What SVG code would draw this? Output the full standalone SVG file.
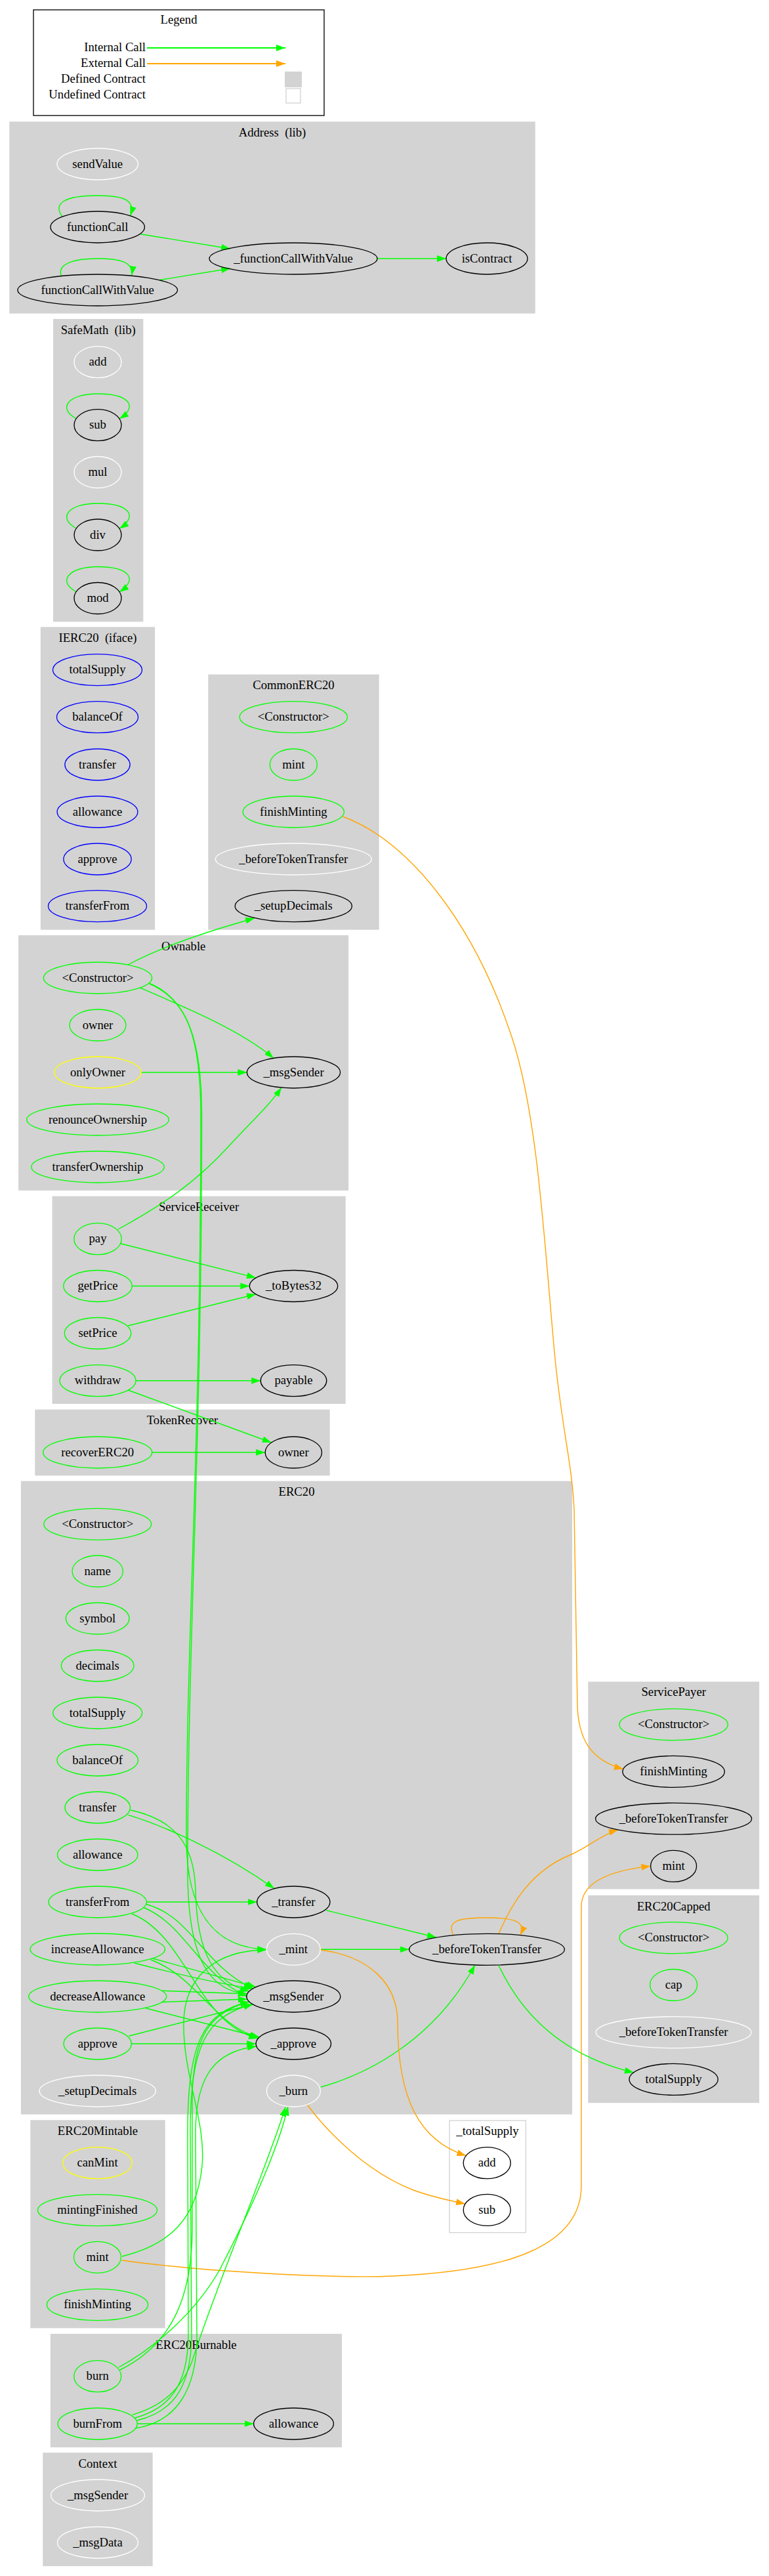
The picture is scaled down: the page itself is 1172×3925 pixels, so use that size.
<svg xmlns="http://www.w3.org/2000/svg" width="1172" height="3925" viewBox="0 0 1172 3925">
<style>
text{font-family:"Liberation Serif","Times New Roman",serif;font-size:18.67px;text-anchor:middle;fill:#000}
.t{white-space:pre}
.r{text-anchor:end}
.cl{fill:#d3d3d3;stroke:#d3d3d3;stroke-width:1.33}
.cw{fill:#ffffff;stroke:#d3d3d3;stroke-width:1.33}
ellipse{fill:none;stroke-width:1.33}
.g ellipse{stroke:#00ff00}.b ellipse{stroke:#0000ff}.y ellipse{stroke:#ffff00}.w ellipse{stroke:#ffffff}.k ellipse{stroke:#000000}
#edges path{fill:none;stroke-width:1.4}
#edges .eg{stroke:#00ff00;marker-end:url(#ag)}
#edges .eo{stroke:#ffa500;marker-end:url(#ao)}
</style>
<defs>
<marker id="ag" markerUnits="userSpaceOnUse" markerWidth="14" markerHeight="10" viewBox="0 0 13.3 9.4" refX="13.3" refY="4.7" orient="auto"><path d="M0,0 L13.3,4.7 L0,9.4 z" fill="#00ff00"/></marker>
<marker id="ao" markerUnits="userSpaceOnUse" markerWidth="14" markerHeight="10" viewBox="0 0 13.3 9.4" refX="13.3" refY="4.7" orient="auto"><path d="M0,0 L13.3,4.7 L0,9.4 z" fill="#ffa500"/></marker>
</defs>
<rect width="1172" height="3925" fill="#ffffff"/>

<g id="legend">
<rect x="51" y="15" width="443" height="161" fill="#ffffff" stroke="#000000" stroke-width="1.33"/>
<text x="272.5" y="36">Legend</text>
<text class="r" x="222" y="78">Internal Call</text>
<text class="r" x="222" y="102">External Call</text>
<text class="r" x="222" y="126">Defined Contract</text>
<text class="r" x="222" y="150">Undefined Contract</text>
<path d="M224,73 L435,73" stroke="#00ff00" stroke-width="2" marker-end="url(#ag)"/>
<path d="M224,97 L435,97" stroke="#ffa500" stroke-width="2" marker-end="url(#ao)"/>
<rect x="434" y="109" width="26" height="24" fill="#d3d3d3"/>
<rect x="436" y="135" width="22" height="22" fill="#ffffff" stroke="#d3d3d3" stroke-width="1.33"/>
</g>

<g id="clusters">
<rect class="cl" x="15" y="186" width="800" height="291"/><text class="t" x="415" y="208">Address  (lib)</text>
<rect class="cl" x="81.7" y="486.7" width="136" height="460"/><text class="t" x="149.7" y="509">SafeMath  (lib)</text>
<rect class="cl" x="62.5" y="956" width="173" height="460"/><text class="t" x="149" y="978">IERC20  (iface)</text>
<rect class="cl" x="318" y="1028.3" width="259" height="387.7"/><text x="447.5" y="1050">CommonERC20</text>
<rect class="cl" x="28.8" y="1425.7" width="501.7" height="387.6"/><text x="279.7" y="1447.5">Ownable</text>
<rect class="cl" x="80.2" y="1823.3" width="445.8" height="315"/><text x="303" y="1845">ServiceReceiver</text>
<rect class="cl" x="54" y="2148.3" width="448" height="99.4"/><text x="278" y="2170">TokenRecover</text>
<rect class="cl" x="32.5" y="2257.3" width="838.9" height="963.7"/><text x="452" y="2279">ERC20</text>
<rect class="cl" x="897" y="2563" width="259.5" height="314.8"/><text x="1026.7" y="2584">ServicePayer</text>
<rect class="cl" x="897" y="2888.5" width="259.5" height="315"/><text x="1026.7" y="2910.5">ERC20Capped</text>
<rect class="cw" x="685" y="3231" width="116.3" height="170.7"/><text x="743" y="3253">_totalSupply</text>
<rect class="cl" x="47" y="3231" width="204" height="315.7"/><text x="149" y="3253">ERC20Mintable</text>
<rect class="cl" x="77.5" y="3556.7" width="442.9" height="171.6"/><text x="299" y="3578.5">ERC20Burnable</text>
<rect class="cl" x="66" y="3737.7" width="166" height="171.6"/><text x="149" y="3759.5">Context</text>
</g>

<g id="edges">
<!-- Address -->
<path class="eg" d="M95,330 C80,310 98,298 148.7,298 C192,298 206,306 198.7,328.5"/>
<path class="eg" d="M93.7,421 C86,402 113,394 148.7,394 C184,394 204,400 200.7,419.5"/>
<path class="eg" d="M214.5,356.7 L351,379"/>
<path class="eg" d="M243,426.7 L351,409"/>
<path class="eg" d="M575,394 L680,394"/>
<!-- SafeMath loops -->
<path class="eg" d="M116,637.7 C87,622 104,600 149,600 C194,600 213,618 182,638.1"/>
<path class="eg" d="M116,805 C87,789 104,767 149,767 C194,767 213,785 182,805.4"/>
<path class="eg" d="M116,901.5 C87,886 104,863.5 149,863.5 C194,863.5 213,881 182,901.9"/>
<!-- Ownable -->
<path class="eg" d="M195,1470 C245,1443 320,1418 388,1399"/>
<path class="eg" d="M213.4,1505 C290,1538 370,1572 417,1612.4"/>
<path class="eg" d="M215,1634 L376.4,1634"/>
<path class="eg" d="M227,1498 C286,1522 306,1582 306,1700 C306,2200 284,2500 284,2800 C284,2925 335,2968 406.3,2970.3"/>
<path class="eg" d="M228,1499 C287,1524 307.5,1586 307.5,1700 C307.5,2200 286,2500 286,2850 C286,2990 322,3034 376.8,3038"/>
<!-- ServiceReceiver -->
<path class="eg" d="M180,1873 C250,1835 300,1800 350,1745 C380,1712 410,1685 429,1657.1"/>
<path class="eg" d="M183.5,1894.7 L390,1946.9"/>
<path class="eg" d="M201.2,1959.5 L380.3,1959.5"/>
<path class="eg" d="M195,2020 L390,1972"/>
<path class="eg" d="M207,2103.7 L397.2,2103.7"/>
<path class="eg" d="M195,2118 L413.6,2198"/>
<!-- TokenRecover -->
<path class="eg" d="M231.7,2213 L404.1,2213"/>
<!-- ERC20 -->
<path class="eg" d="M195.3,2765.4 C250,2782 340,2822 418,2877.6"/>
<path class="eg" d="M199,2758 C262,2772 296,2805 298,2880 C300,2982 330,3022 379.9,3034"/>
<path class="eg" d="M223.3,2898 L391.7,2898"/>
<path class="eg" d="M223,2901.5 C292,2920 310,2995 385.4,3030"/>
<path class="eg" d="M219,2906.5 C282,2932 305,3010 376.8,3042"/>
<path class="eg" d="M201,2916 C285,2950 300,3082 393,3106"/>
<path class="eg" d="M232.9,2984 L390,3027.6"/>
<path class="eg" d="M204.8,2991 C270,3008 330,3022 385.4,3030"/>
<path class="eg" d="M230,2986 C300,3012 330,3090 395.3,3104"/>
<path class="eg" d="M246.9,3033.3 L376.8,3038"/>
<path class="eg" d="M246.9,3050.5 L376.8,3046"/>
<path class="eg" d="M221.7,3059.8 L395.3,3104"/>
<path class="eg" d="M196.4,3102.2 L385.4,3054"/>
<path class="eg" d="M200.3,3114 L390.1,3114"/>
<path class="eg" d="M497.2,2910.7 L665,2952"/>
<path class="eg" d="M488.3,2970.3 L623.6,2970.3"/>
<path class="eg" d="M489,3180 C560,3160 660,3110 724,2994"/>
<path class="eg" d="M760,2994.5 C800,3080 870,3135 966,3158"/>
<path class="eo" d="M691,2948.5 C680,2926 700,2922 742,2922 C785,2922 802,2928 793,2948.6"/>
<path class="eo" d="M760,2946.5 C780,2900 810,2850 870,2826 C895,2815 918,2795 942,2788"/>
<path class="eo" d="M488.3,2971 C560,2980 605,3020 606,3080 C606,3200 640,3262 710.3,3284.5"/>
<path class="eo" d="M468,3206.5 C500,3250 560,3310 630,3337 C660,3348 690,3354 709,3358"/>
<!-- CommonERC20 -> ServicePayer -->
<path class="eo" d="M522,1244 C620,1280 720,1400 780,1580 C820,1700 830,1900 845,2060 C855,2170 872,2230 875,2300 L880,2600 C882,2650 900,2682 950,2695.5"/>
<!-- ERC20Mintable -->
<path class="eo" d="M185.7,3444 C300,3460 500,3472 600,3468 C780,3460 886,3420 886,3330 L886,2905 C886,2868 930,2850 991.4,2843.4"/>
<path class="eg" d="M186,3438 C260,3420 300,3380 308,3300 C314,3230 278,3160 280,3080 C282,3010 330,2972 406.3,2970.8"/>
<!-- ERC20Burnable -->
<path class="eg" d="M181,3607 C240,3575 300,3520 335,3458 C365,3400 420,3290 439,3209.5"/>
<path class="eg" d="M183,3611 C262,3572 292,3500 293,3400 L293,3200 C293,3100 322,3066 379.9,3050"/>
<path class="eg" d="M201.8,3679.3 C250,3665 275,3640 292,3600 C330,3480 408,3300 435,3210.5"/>
<path class="eg" d="M209,3688 C262,3675 291,3640 292,3560 L290,3250 C290,3120 312,3072 385.4,3054"/>
<path class="eg" d="M206,3684 C258,3670 286,3635 287,3560 L286,3250 C286,3110 310,3066 379.9,3050"/>
<path class="eg" d="M206,3700 C270,3690 300,3640 300,3560 L298,3250 C298,3160 330,3125 390.9,3118"/>
<path class="eg" d="M209.5,3693 L386.6,3693"/>
</g>

<g id="n_addr_sendValue" class="w"><ellipse cx="148.7" cy="250" rx="61.7" ry="24"/><text x="148.7" y="255.5">sendValue</text></g>
<g id="n_addr_functionCall" class="k"><ellipse cx="148.7" cy="346" rx="71.7" ry="24"/><text x="148.7" y="351.5">functionCall</text></g>
<g id="n_addr_fcwv" class="k"><ellipse cx="447" cy="394" rx="128" ry="24"/><text x="447" y="399.5">_functionCallWithValue</text></g>
<g id="n_addr_isContract" class="k"><ellipse cx="742" cy="394" rx="62" ry="24"/><text x="742" y="399.5">isContract</text></g>
<g id="n_addr_functionCallWithValue" class="k"><ellipse cx="148.7" cy="442" rx="121.8" ry="24"/><text x="148.7" y="447.5">functionCallWithValue</text></g>

<g id="n_sm_add" class="w"><ellipse cx="149" cy="551.7" rx="36" ry="24"/><text x="149" y="557.2">add</text></g>
<g id="n_sm_sub" class="k"><ellipse cx="149" cy="647.7" rx="36" ry="24"/><text x="149" y="653.2">sub</text></g>
<g id="n_sm_mul" class="w"><ellipse cx="149" cy="719.5" rx="36" ry="24"/><text x="149" y="725">mul</text></g>
<g id="n_sm_div" class="k"><ellipse cx="149" cy="815" rx="36" ry="24"/><text x="149" y="820.5">div</text></g>
<g id="n_sm_mod" class="k"><ellipse cx="149" cy="911.5" rx="36" ry="24"/><text x="149" y="917">mod</text></g>

<g id="n_ierc_totalSupply" class="b"><ellipse cx="148.5" cy="1020.7" rx="68" ry="24"/><text x="148.5" y="1026.2">totalSupply</text></g>
<g id="n_ierc_balanceOf" class="b"><ellipse cx="148.5" cy="1092.7" rx="62" ry="24"/><text x="148.5" y="1098.2">balanceOf</text></g>
<g id="n_ierc_transfer" class="b"><ellipse cx="148.5" cy="1165" rx="49.6" ry="24"/><text x="148.5" y="1170.5">transfer</text></g>
<g id="n_ierc_allowance" class="b"><ellipse cx="148.5" cy="1237" rx="61.4" ry="24"/><text x="148.5" y="1242.5">allowance</text></g>
<g id="n_ierc_approve" class="b"><ellipse cx="148.5" cy="1309" rx="51.6" ry="24"/><text x="148.5" y="1314.5">approve</text></g>
<g id="n_ierc_transferFrom" class="b"><ellipse cx="148.5" cy="1380.7" rx="75" ry="24"/><text x="148.5" y="1386.2">transferFrom</text></g>

<g id="n_cerc_ctor" class="g"><ellipse cx="447.3" cy="1092.7" rx="82.1" ry="24"/><text x="447.3" y="1098.2">&lt;Constructor&gt;</text></g>
<g id="n_cerc_mint" class="g"><ellipse cx="447.3" cy="1165" rx="36" ry="24"/><text x="447.3" y="1170.5">mint</text></g>
<g id="n_cerc_finishMinting" class="g"><ellipse cx="447.3" cy="1237" rx="77.1" ry="24"/><text x="447.3" y="1242.5">finishMinting</text></g>
<g id="n_cerc_bTT" class="w"><ellipse cx="447.3" cy="1309" rx="118.9" ry="24"/><text x="447.3" y="1314.5">_beforeTokenTransfer</text></g>
<g id="n_cerc_setupDecimals" class="k"><ellipse cx="447.3" cy="1380.7" rx="89.1" ry="24"/><text x="447.3" y="1386.2">_setupDecimals</text></g>

<g id="n_own_ctor" class="g"><ellipse cx="149" cy="1490" rx="82.6" ry="24"/><text x="149" y="1495.5">&lt;Constructor&gt;</text></g>
<g id="n_own_owner" class="g"><ellipse cx="149" cy="1562" rx="43" ry="24"/><text x="149" y="1567.5">owner</text></g>
<g id="n_own_onlyOwner" class="y"><ellipse cx="149" cy="1634" rx="66.2" ry="24"/><text x="149" y="1639.5">onlyOwner</text></g>
<g id="n_own_renounce" class="g"><ellipse cx="149" cy="1706" rx="108.3" ry="24"/><text x="149" y="1711.5">renounceOwnership</text></g>
<g id="n_own_transferOwnership" class="g"><ellipse cx="149" cy="1778" rx="101.2" ry="24"/><text x="149" y="1783.5">transferOwnership</text></g>
<g id="n_own_msgSender" class="k"><ellipse cx="447.5" cy="1634" rx="71.1" ry="24"/><text x="447.5" y="1639.5">_msgSender</text></g>

<g id="n_sr_pay" class="g"><ellipse cx="149" cy="1887.7" rx="36.2" ry="24"/><text x="149" y="1893.2">pay</text></g>
<g id="n_sr_getPrice" class="g"><ellipse cx="149" cy="1959.5" rx="52.2" ry="24"/><text x="149" y="1965">getPrice</text></g>
<g id="n_sr_setPrice" class="g"><ellipse cx="149" cy="2031.5" rx="50.7" ry="24"/><text x="149" y="2037">setPrice</text></g>
<g id="n_sr_withdraw" class="g"><ellipse cx="149" cy="2103.7" rx="58" ry="24"/><text x="149" y="2109.2">withdraw</text></g>
<g id="n_sr_toBytes32" class="k"><ellipse cx="447.5" cy="1959.5" rx="67.2" ry="24"/><text x="447.5" y="1965">_toBytes32</text></g>
<g id="n_sr_payable" class="k"><ellipse cx="447.5" cy="2103.7" rx="50.3" ry="24"/><text x="447.5" y="2109.2">payable</text></g>

<g id="n_tr_recoverERC20" class="g"><ellipse cx="148.7" cy="2213" rx="83" ry="24"/><text x="148.7" y="2218.5">recoverERC20</text></g>
<g id="n_tr_owner" class="k"><ellipse cx="447.3" cy="2213" rx="43.2" ry="24"/><text x="447.3" y="2218.5">owner</text></g>

<g id="n_erc_ctor" class="g"><ellipse cx="148.7" cy="2322.3" rx="81.9" ry="24"/><text x="148.7" y="2327.8">&lt;Constructor&gt;</text></g>
<g id="n_erc_name" class="g"><ellipse cx="148.7" cy="2394" rx="38.7" ry="24"/><text x="148.7" y="2399.5">name</text></g>
<g id="n_erc_symbol" class="g"><ellipse cx="148.7" cy="2466" rx="48.3" ry="24"/><text x="148.7" y="2471.5">symbol</text></g>
<g id="n_erc_decimals" class="g"><ellipse cx="148.7" cy="2538" rx="55.3" ry="24"/><text x="148.7" y="2543.5">decimals</text></g>
<g id="n_erc_totalSupply" class="g"><ellipse cx="148.7" cy="2610" rx="67.9" ry="24"/><text x="148.7" y="2615.5">totalSupply</text></g>
<g id="n_erc_balanceOf" class="g"><ellipse cx="148.7" cy="2682" rx="61.7" ry="24"/><text x="148.7" y="2687.5">balanceOf</text></g>
<g id="n_erc_transfer" class="g"><ellipse cx="148.7" cy="2754" rx="49.7" ry="24"/><text x="148.7" y="2759.5">transfer</text></g>
<g id="n_erc_allowance" class="g"><ellipse cx="148.7" cy="2826" rx="61.2" ry="24"/><text x="148.7" y="2831.5">allowance</text></g>
<g id="n_erc_transferFrom" class="g"><ellipse cx="148.7" cy="2898" rx="74.6" ry="24"/><text x="148.7" y="2903.5">transferFrom</text></g>
<g id="n_erc_increaseAllowance" class="g"><ellipse cx="148.7" cy="2970" rx="102.7" ry="24"/><text x="148.7" y="2975.5">increaseAllowance</text></g>
<g id="n_erc_decreaseAllowance" class="g"><ellipse cx="148.7" cy="3042" rx="105" ry="24"/><text x="148.7" y="3047.5">decreaseAllowance</text></g>
<g id="n_erc_approve" class="g"><ellipse cx="148.7" cy="3114" rx="51.6" ry="24"/><text x="148.7" y="3119.5">approve</text></g>
<g id="n_erc_setupDecimals" class="w"><ellipse cx="148.7" cy="3186" rx="88.7" ry="24"/><text x="148.7" y="3191.5">_setupDecimals</text></g>
<g id="n_erc__transfer" class="k"><ellipse cx="447.3" cy="2898" rx="55.6" ry="24"/><text x="447.3" y="2903.5">_transfer</text></g>
<g id="n_erc__mint" class="w"><ellipse cx="447.3" cy="2970.3" rx="41" ry="24"/><text x="447.3" y="2975.8">_mint</text></g>
<g id="n_erc__msgSender" class="k"><ellipse cx="447.3" cy="3042" rx="71.5" ry="24"/><text x="447.3" y="3047.5">_msgSender</text></g>
<g id="n_erc__approve" class="k"><ellipse cx="447.3" cy="3114" rx="57.2" ry="24"/><text x="447.3" y="3119.5">_approve</text></g>
<g id="n_erc__burn" class="w"><ellipse cx="447.3" cy="3186" rx="41" ry="24"/><text x="447.3" y="3191.5">_burn</text></g>
<g id="n_erc__bTT" class="k"><ellipse cx="742" cy="2970.3" rx="118.4" ry="24"/><text x="742" y="2975.8">_beforeTokenTransfer</text></g>

<g id="n_sp_ctor" class="g"><ellipse cx="1026.6" cy="2627.7" rx="82.7" ry="24"/><text x="1026.6" y="2633.2">&lt;Constructor&gt;</text></g>
<g id="n_sp_finishMinting" class="k"><ellipse cx="1026.6" cy="2699.4" rx="77.7" ry="24"/><text x="1026.6" y="2704.9">finishMinting</text></g>
<g id="n_sp_bTT" class="k"><ellipse cx="1026.6" cy="2771.2" rx="119" ry="24"/><text x="1026.6" y="2776.7">_beforeTokenTransfer</text></g>
<g id="n_sp_mint" class="k"><ellipse cx="1026.6" cy="2843.4" rx="35" ry="24"/><text x="1026.6" y="2848.9">mint</text></g>

<g id="n_cap_ctor" class="g"><ellipse cx="1026.6" cy="2952.7" rx="82.5" ry="24"/><text x="1026.6" y="2958.2">&lt;Constructor&gt;</text></g>
<g id="n_cap_cap" class="g"><ellipse cx="1026.6" cy="3024.5" rx="36" ry="24"/><text x="1026.6" y="3030">cap</text></g>
<g id="n_cap_bTT" class="w"><ellipse cx="1026.6" cy="3096.7" rx="118.4" ry="24"/><text x="1026.6" y="3102.2">_beforeTokenTransfer</text></g>
<g id="n_cap_totalSupply" class="k"><ellipse cx="1026.6" cy="3168.3" rx="67.6" ry="24"/><text x="1026.6" y="3173.8">totalSupply</text></g>

<g id="n_ts_add" class="k"><ellipse cx="742.2" cy="3295.7" rx="36" ry="24"/><text x="742.2" y="3301.2">add</text></g>
<g id="n_ts_sub" class="k"><ellipse cx="742.2" cy="3367.3" rx="36" ry="24"/><text x="742.2" y="3372.8">sub</text></g>

<g id="n_mt_canMint" class="y"><ellipse cx="148.5" cy="3295.7" rx="52.8" ry="24"/><text x="148.5" y="3301.2">canMint</text></g>
<g id="n_mt_mintingFinished" class="g"><ellipse cx="148.5" cy="3367.7" rx="91" ry="24"/><text x="148.5" y="3373.2">mintingFinished</text></g>
<g id="n_mt_mint" class="g"><ellipse cx="148.5" cy="3439.3" rx="36" ry="24"/><text x="148.5" y="3444.8">mint</text></g>
<g id="n_mt_finishMinting" class="g"><ellipse cx="148.5" cy="3511.7" rx="77.1" ry="24"/><text x="148.5" y="3517.2">finishMinting</text></g>

<g id="n_bn_burn" class="g"><ellipse cx="148.7" cy="3620.7" rx="36" ry="24"/><text x="148.7" y="3626.2">burn</text></g>
<g id="n_bn_burnFrom" class="g"><ellipse cx="148.7" cy="3693" rx="60.5" ry="24"/><text x="148.7" y="3698.5">burnFrom</text></g>
<g id="n_bn_allowance" class="k"><ellipse cx="447.5" cy="3693" rx="60.9" ry="24"/><text x="447.5" y="3698.5">allowance</text></g>

<g id="n_ctx_msgSender" class="w"><ellipse cx="149" cy="3802" rx="71.4" ry="24"/><text x="149" y="3807.5">_msgSender</text></g>
<g id="n_ctx_msgData" class="w"><ellipse cx="149" cy="3874" rx="61.4" ry="24"/><text x="149" y="3879.5">_msgData</text></g>
</svg>
